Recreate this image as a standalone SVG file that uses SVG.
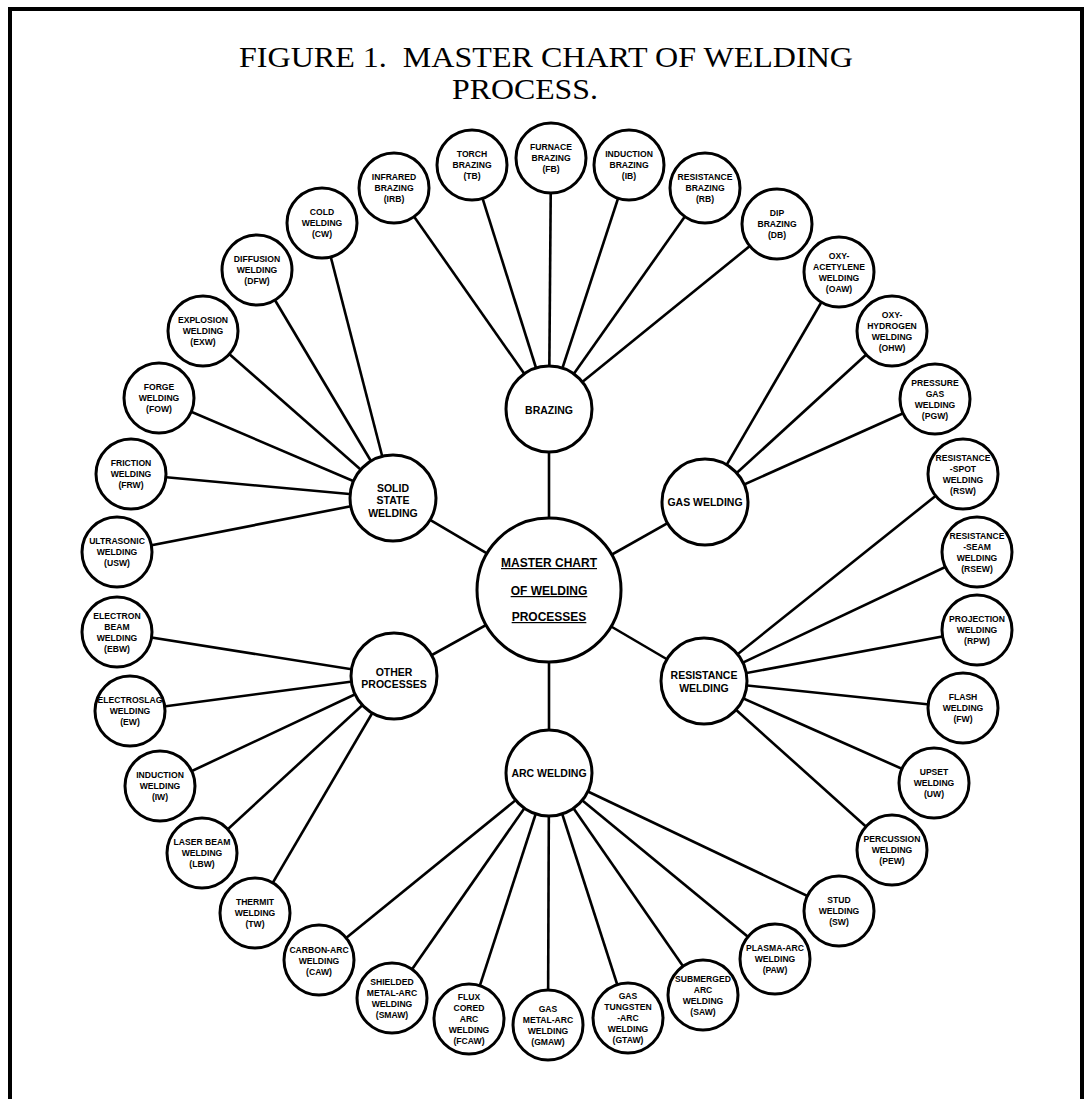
<svg xmlns="http://www.w3.org/2000/svg" width="1086" height="1099" viewBox="0 0 1086 1099">
<style>
.frame{fill:none;stroke:#000;stroke-width:4}
.title{font-family:"Liberation Serif","Times New Roman",serif;font-size:29px;fill:#000}
.conn line{stroke:#000;stroke-width:2.6}
.node circle{fill:#fff;stroke:#000;stroke-width:3}
.leaf text{font-family:"Liberation Sans",Arial,sans-serif;font-weight:bold;font-size:8.6px;text-anchor:middle;fill:#000}
.hub text{font-family:"Liberation Sans",Arial,sans-serif;font-weight:bold;font-size:10.5px;text-anchor:middle;fill:#000}
.master text{font-family:"Liberation Sans",Arial,sans-serif;font-weight:bold;font-size:12px;text-anchor:middle;fill:#000;text-decoration:underline}
</style>
<rect width="1086" height="1099" fill="#fff"/>
<path class="frame" d="M10 1099 V9 H1082 V1099"/>
<text class="title" x="239" y="67" textLength="614" lengthAdjust="spacingAndGlyphs" xml:space="preserve">FIGURE 1.  MASTER CHART OF WELDING</text>
<text class="title" x="452" y="99" textLength="146" lengthAdjust="spacingAndGlyphs">PROCESS.</text>

<g id="connectors" class="conn">
<line x1="549" y1="590" x2="549" y2="409"/>
<line x1="549" y1="590" x2="705" y2="502"/>
<line x1="549" y1="590" x2="704" y2="681"/>
<line x1="549" y1="590" x2="549" y2="773"/>
<line x1="549" y1="590" x2="394" y2="676"/>
<line x1="549" y1="590" x2="393" y2="498"/>
<line x1="549" y1="409" x2="394" y2="188"/>
<line x1="549" y1="409" x2="472" y2="165"/>
<line x1="549" y1="409" x2="551" y2="158"/>
<line x1="549" y1="409" x2="629" y2="165"/>
<line x1="549" y1="409" x2="705" y2="188"/>
<line x1="549" y1="409" x2="777" y2="224"/>
<line x1="705" y1="502" x2="839" y2="272"/>
<line x1="705" y1="502" x2="892" y2="331"/>
<line x1="705" y1="502" x2="935" y2="399"/>
<line x1="704" y1="681" x2="963" y2="474"/>
<line x1="704" y1="681" x2="977" y2="552"/>
<line x1="704" y1="681" x2="977" y2="630"/>
<line x1="704" y1="681" x2="963" y2="708"/>
<line x1="704" y1="681" x2="934" y2="783"/>
<line x1="704" y1="681" x2="892" y2="850"/>
<line x1="549" y1="773" x2="839" y2="911"/>
<line x1="549" y1="773" x2="775" y2="959"/>
<line x1="549" y1="773" x2="703" y2="995"/>
<line x1="549" y1="773" x2="628" y2="1018"/>
<line x1="549" y1="773" x2="548" y2="1025"/>
<line x1="549" y1="773" x2="469" y2="1019"/>
<line x1="549" y1="773" x2="392" y2="998"/>
<line x1="549" y1="773" x2="319" y2="960"/>
<line x1="394" y1="676" x2="255" y2="913"/>
<line x1="394" y1="676" x2="202" y2="853"/>
<line x1="394" y1="676" x2="160" y2="786"/>
<line x1="394" y1="676" x2="130" y2="711"/>
<line x1="394" y1="676" x2="117" y2="632"/>
<line x1="393" y1="498" x2="117" y2="552"/>
<line x1="393" y1="498" x2="131" y2="474"/>
<line x1="393" y1="498" x2="159" y2="398"/>
<line x1="393" y1="498" x2="203" y2="331"/>
<line x1="393" y1="498" x2="257" y2="270"/>
<line x1="393" y1="498" x2="322" y2="223"/>
</g>

<g id="master" class="node master">
<circle cx="549" cy="590" r="72"/>
<text x="549" y="567">MASTER CHART</text>
<text x="549" y="595">OF WELDING</text>
<text x="549" y="621">PROCESSES</text>
</g>

<g id="brazing" class="node hub"><circle cx="549" cy="409" r="43"/><text x="549" y="414">BRAZING</text></g>
<g id="gas-welding" class="node hub"><circle cx="705" cy="502" r="43"/><text x="705" y="506">GAS WELDING</text></g>
<g id="resistance-welding" class="node hub"><circle cx="704" cy="681" r="43"/><text x="704" y="679">RESISTANCE</text><text x="704" y="692">WELDING</text></g>
<g id="arc-welding" class="node hub"><circle cx="549" cy="773" r="43"/><text x="549" y="777">ARC WELDING</text></g>
<g id="other-processes" class="node hub"><circle cx="394" cy="676" r="43"/><text x="394" y="676">OTHER</text><text x="394" y="688">PROCESSES</text></g>
<g id="solid-state-welding" class="node hub"><circle cx="393" cy="498" r="43"/><text x="393" y="492">SOLID</text><text x="393" y="504">STATE</text><text x="393" y="517">WELDING</text></g>

<g id="irb" class="node leaf"><circle cx="394" cy="188" r="35"/><text x="394" y="180">INFRARED</text><text x="394" y="191">BRAZING</text><text x="394" y="202">(IRB)</text></g>
<g id="tb" class="node leaf"><circle cx="472" cy="165" r="35"/><text x="472" y="157">TORCH</text><text x="472" y="168">BRAZING</text><text x="472" y="179">(TB)</text></g>
<g id="fb" class="node leaf"><circle cx="551" cy="158" r="35"/><text x="551" y="150">FURNACE</text><text x="551" y="161">BRAZING</text><text x="551" y="172">(FB)</text></g>
<g id="ib" class="node leaf"><circle cx="629" cy="165" r="35"/><text x="629" y="157">INDUCTION</text><text x="629" y="168">BRAZING</text><text x="629" y="179">(IB)</text></g>
<g id="rb" class="node leaf"><circle cx="705" cy="188" r="35"/><text x="705" y="180">RESISTANCE</text><text x="705" y="191">BRAZING</text><text x="705" y="202">(RB)</text></g>
<g id="db" class="node leaf"><circle cx="777" cy="224" r="35"/><text x="777" y="216">DIP</text><text x="777" y="227">BRAZING</text><text x="777" y="238">(DB)</text></g>
<g id="oaw" class="node leaf"><circle cx="839" cy="272" r="35"/><text x="839" y="259">OXY-</text><text x="839" y="270">ACETYLENE</text><text x="839" y="281">WELDING</text><text x="839" y="292">(OAW)</text></g>
<g id="ohw" class="node leaf"><circle cx="892" cy="331" r="35"/><text x="892" y="318">OXY-</text><text x="892" y="329">HYDROGEN</text><text x="892" y="340">WELDING</text><text x="892" y="351">(OHW)</text></g>
<g id="pgw" class="node leaf"><circle cx="935" cy="399" r="35"/><text x="935" y="386">PRESSURE</text><text x="935" y="397">GAS</text><text x="935" y="408">WELDING</text><text x="935" y="419">(PGW)</text></g>
<g id="rsw" class="node leaf"><circle cx="963" cy="474" r="35"/><text x="963" y="461">RESISTANCE</text><text x="963" y="472">-SPOT</text><text x="963" y="483">WELDING</text><text x="963" y="494">(RSW)</text></g>
<g id="rsew" class="node leaf"><circle cx="977" cy="552" r="35"/><text x="977" y="539">RESISTANCE</text><text x="977" y="550">-SEAM</text><text x="977" y="561">WELDING</text><text x="977" y="572">(RSEW)</text></g>
<g id="rpw" class="node leaf"><circle cx="977" cy="630" r="35"/><text x="977" y="622">PROJECTION</text><text x="977" y="633">WELDING</text><text x="977" y="644">(RPW)</text></g>
<g id="fw" class="node leaf"><circle cx="963" cy="708" r="35"/><text x="963" y="700">FLASH</text><text x="963" y="711">WELDING</text><text x="963" y="722">(FW)</text></g>
<g id="uw" class="node leaf"><circle cx="934" cy="783" r="35"/><text x="934" y="775">UPSET</text><text x="934" y="786">WELDING</text><text x="934" y="797">(UW)</text></g>
<g id="pew" class="node leaf"><circle cx="892" cy="850" r="35"/><text x="892" y="842">PERCUSSION</text><text x="892" y="853">WELDING</text><text x="892" y="864">(PEW)</text></g>
<g id="sw" class="node leaf"><circle cx="839" cy="911" r="35"/><text x="839" y="903">STUD</text><text x="839" y="914">WELDING</text><text x="839" y="925">(SW)</text></g>
<g id="paw" class="node leaf"><circle cx="775" cy="959" r="35"/><text x="775" y="951">PLASMA-ARC</text><text x="775" y="962">WELDING</text><text x="775" y="973">(PAW)</text></g>
<g id="saw" class="node leaf"><circle cx="703" cy="995" r="35"/><text x="703" y="982">SUBMERGED</text><text x="703" y="993">ARC</text><text x="703" y="1004">WELDING</text><text x="703" y="1015">(SAW)</text></g>
<g id="gtaw" class="node leaf"><circle cx="628" cy="1018" r="35"/><text x="628" y="999">GAS</text><text x="628" y="1010">TUNGSTEN</text><text x="628" y="1021">-ARC</text><text x="628" y="1032">WELDING</text><text x="628" y="1043">(GTAW)</text></g>
<g id="gmaw" class="node leaf"><circle cx="548" cy="1025" r="35"/><text x="548" y="1012">GAS</text><text x="548" y="1023">METAL-ARC</text><text x="548" y="1034">WELDING</text><text x="548" y="1045">(GMAW)</text></g>
<g id="fcaw" class="node leaf"><circle cx="469" cy="1019" r="35"/><text x="469" y="1000">FLUX</text><text x="469" y="1011">CORED</text><text x="469" y="1022">ARC</text><text x="469" y="1033">WELDING</text><text x="469" y="1044">(FCAW)</text></g>
<g id="smaw" class="node leaf"><circle cx="392" cy="998" r="35"/><text x="392" y="985">SHIELDED</text><text x="392" y="996">METAL-ARC</text><text x="392" y="1007">WELDING</text><text x="392" y="1018">(SMAW)</text></g>
<g id="caw" class="node leaf"><circle cx="319" cy="960" r="35"/><text x="319" y="953">CARBON-ARC</text><text x="319" y="964">WELDING</text><text x="319" y="975">(CAW)</text></g>
<g id="tw" class="node leaf"><circle cx="255" cy="913" r="35"/><text x="255" y="905">THERMIT</text><text x="255" y="916">WELDING</text><text x="255" y="927">(TW)</text></g>
<g id="lbw" class="node leaf"><circle cx="202" cy="853" r="35"/><text x="202" y="845">LASER BEAM</text><text x="202" y="856">WELDING</text><text x="202" y="867">(LBW)</text></g>
<g id="iw" class="node leaf"><circle cx="160" cy="786" r="35"/><text x="160" y="778">INDUCTION</text><text x="160" y="789">WELDING</text><text x="160" y="800">(IW)</text></g>
<g id="ew" class="node leaf"><circle cx="130" cy="711" r="35"/><text x="130" y="703">ELECTROSLAG</text><text x="130" y="714">WELDING</text><text x="130" y="725">(EW)</text></g>
<g id="ebw" class="node leaf"><circle cx="117" cy="632" r="35"/><text x="117" y="619">ELECTRON</text><text x="117" y="630">BEAM</text><text x="117" y="641">WELDING</text><text x="117" y="652">(EBW)</text></g>
<g id="usw" class="node leaf"><circle cx="117" cy="552" r="35"/><text x="117" y="544">ULTRASONIC</text><text x="117" y="555">WELDING</text><text x="117" y="566">(USW)</text></g>
<g id="frw" class="node leaf"><circle cx="131" cy="474" r="35"/><text x="131" y="466">FRICTION</text><text x="131" y="477">WELDING</text><text x="131" y="488">(FRW)</text></g>
<g id="fow" class="node leaf"><circle cx="159" cy="398" r="35"/><text x="159" y="390">FORGE</text><text x="159" y="401">WELDING</text><text x="159" y="412">(FOW)</text></g>
<g id="exw" class="node leaf"><circle cx="203" cy="331" r="35"/><text x="203" y="323">EXPLOSION</text><text x="203" y="334">WELDING</text><text x="203" y="345">(EXW)</text></g>
<g id="dfw" class="node leaf"><circle cx="257" cy="270" r="35"/><text x="257" y="262">DIFFUSION</text><text x="257" y="273">WELDING</text><text x="257" y="284">(DFW)</text></g>
<g id="cw" class="node leaf"><circle cx="322" cy="223" r="35"/><text x="322" y="215">COLD</text><text x="322" y="226">WELDING</text><text x="322" y="237">(CW)</text></g>
</svg>
